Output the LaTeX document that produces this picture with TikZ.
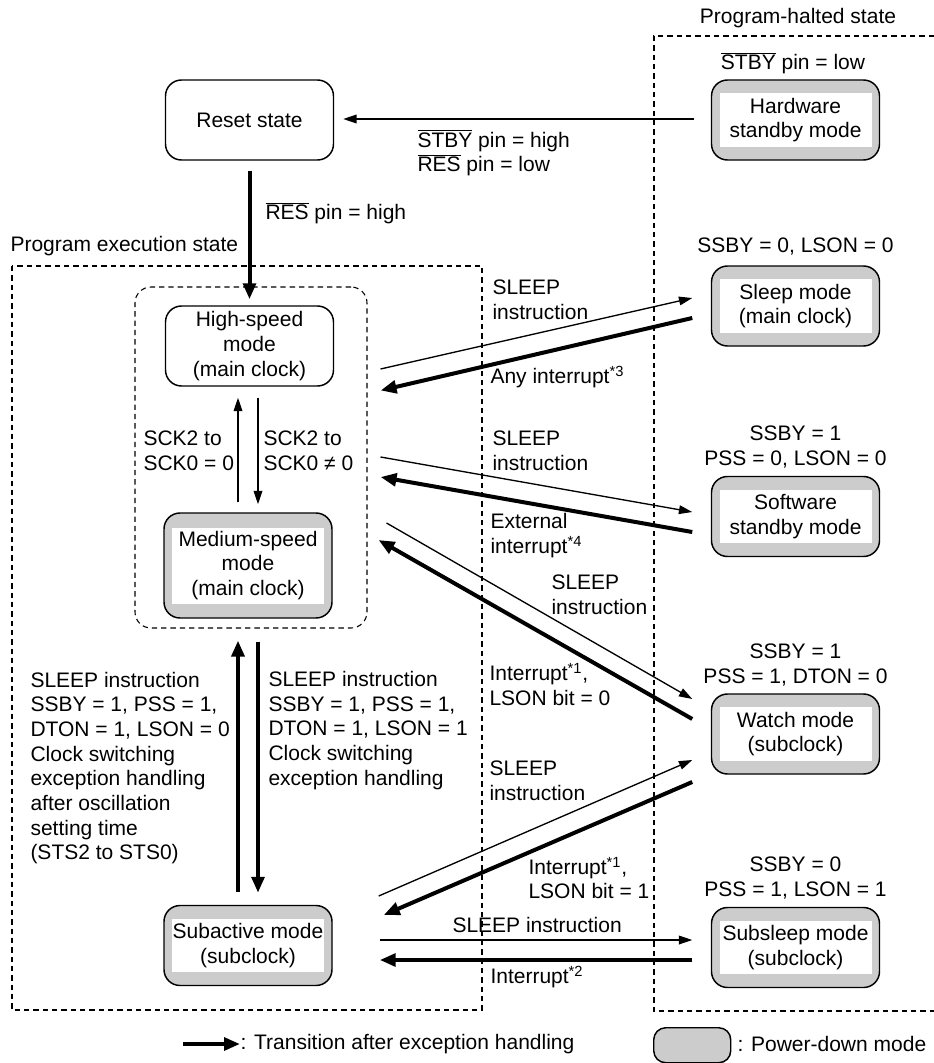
\documentclass[tikz,border=0pt]{standalone}
\usepackage{fontspec}
\setmainfont{Liberation Sans}
\usetikzlibrary{arrows.meta,calc}
\definecolor{pdgray}{RGB}{204,204,204}
\tikzset{every picture/.style={line width=0.75pt}}
\tikzset{
  modebox/.style={draw, rounded corners=12pt, line width=1.1pt, minimum width=126pt, minimum height=60pt, inner sep=0pt, align=center},
  pdbox/.style={modebox, fill=pdgray},
  pdtext/.style={fill=white, minimum width=114pt, minimum height=40pt, inner sep=0pt, align=center},
  lbl/.style={inner sep=0pt, align=left, anchor=west},
  clbl/.style={inner sep=0pt, align=center},
  grpbox/.style={draw, dash pattern=on 4pt off 3pt, line width=0.8pt},
  thinarr/.style={line width=1pt, -{Triangle[length=10pt,width=6.5pt]}},
  thickarr/.style={line width=3pt, -{Triangle[length=12pt,width=9.5pt]}}
}
\begin{document}
\fontsize{15.75}{18.5}\selectfont
\begin{tikzpicture}[x=0.75pt,y=0.75pt,yscale=-1,xscale=1]
\useasboundingbox (0,0) rectangle (934,1063);

%Shape: Rectangle [execution state]
\draw [grpbox] (12,266) rectangle (482,1010);
%Shape: Open Rectangle [halted state]
\draw [grpbox] (934,36) -- (654,36) -- (654,1011) -- (934,1011);
%Shape: Rounded Rect [main clock group]
\node [grpbox, rounded corners=12pt, minimum width=174pt, minimum height=255.75pt] (mainclk) at (251,457.5) {};

% Text Node
\node [lbl] (exectitle) at (10,246) {Program execution state};
% Text Node
\node [clbl] (halttitle) at (798,18) {Program-halted state};

%Shape: Rounded Rect [states]
\node [modebox] (reset) at (249.5,120) {Reset state};
\node [modebox] (high) at (249.5,346) {High-speed\\mode\\(main clock)};
\node [pdbox, minimum height=78.75pt] (medium) at (248,565.5) {};
\node [pdtext, minimum height=57pt] (medium-t) at (medium) {Medium-speed\\mode\\(main clock)};
\node [pdbox] (subact) at (248,945.5) {};
\node [pdtext] (subact-t) at (subact) {Subactive mode\\(subclock)};
\node [pdbox] (hwstby) at (795.5,120) {};
\node [pdtext] (hwstby-t) at (hwstby) {Hardware\\standby mode};
\node [pdbox] (sleep) at (795.5,306) {};
\node [pdtext] (sleep-t) at (sleep) {Sleep mode\\(main clock)};
\node [pdbox] (swstby) at (795.5,516.5) {};
\node [pdtext] (swstby-t) at (swstby) {Software\\standby mode};
\node [pdbox] (watch) at (795.5,734) {};
\node [pdtext] (watch-t) at (watch) {Watch mode\\(subclock)};
\node [pdbox] (subsleep) at (795.5,947.5) {};
\node [pdtext] (subsleep-t) at (subsleep) {Subsleep mode\\(subclock)};

% Text Node
\node [clbl] (hwcond) at (793,63) {$\overline{\mbox{STBY}}$ pin = low};
\node [clbl] (sleepcond) at (795.5,247) {SSBY = 0, LSON = 0};
\node [clbl] (swcond) at (795.5,447) {SSBY = 1\\PSS = 0, LSON = 0};
\node [clbl] (watchcond) at (795.5,665) {SSBY = 1\\PSS = 1, DTON = 0};
\node [clbl] (subslcond) at (795.5,878) {SSBY = 0\\PSS = 1, LSON = 1};

%Straight Lines
\draw [thinarr] ($(hwstby.west)+(-17,-1)$) -- ($(reset.east)+(9,-1)$);
\draw [thickarr] ($(reset.south)+(0,10)$) -- ($(high.north)+(0,-6)$);
\draw [thinarr] ($(medium.north)+(-10,-10)$) -- ($(high.south)+(-11.5,11)$);
\draw [thinarr] ($(high.south)+(8.5,11)$) -- ($(medium.north)+(10,-8)$);
\draw [thickarr] ($(subact.north)+(-10,-13)$) -- ($(mainclk.south)+(-13,12)$);
\draw [thickarr] ($(mainclk.south)+(7,13)$) -- ($(subact.north)+(10,-12)$);
%Straight Lines
\draw [thinarr] ($(mainclk.east)+(13,-88.5)$) -- ($(sleep.west)+(-18.5,-8)$);
\draw [thickarr] ($(sleep.west)+(-18.5,12)$) -- ($(mainclk.east)+(13,-67)$);
\draw [thinarr] ($(mainclk.east)+(13,-0.5)$) -- ($(swstby.west)+(-18.5,-4.5)$);
\draw [thickarr] ($(swstby.west)+(-18.5,15.5)$) -- ($(mainclk.east)+(13,19.5)$);
\draw [thinarr] ($(mainclk.east)+(19,65.5)$) -- ($(watch.west)+(-18.5,-35)$);
\draw [thickarr] ($(watch.west)+(-18.5,-15)$) -- ($(mainclk.east)+(11,82.5)$);
\draw [thinarr] ($(subact.east)+(46,-49.5)$) -- ($(watch.west)+(-18.5,26)$);
\draw [thickarr] ($(watch.west)+(-18.5,48)$) -- ($(subact.east)+(51,-30.5)$);
\draw [thinarr] ($(subact.east)+(47,-5.5)$) -- ($(subsleep.west)+(-18.5,-7.5)$);
\draw [thickarr] ($(subsleep.west)+(-18.5,12.5)$) -- ($(subact.east)+(47,14.5)$);

% Text Node
\node [lbl] (hw-l) at (417,153) {$\overline{\mbox{STBY}}$ pin = high\\$\overline{\mbox{RES}}$ pin = low};
\node [lbl] (res-l) at (265,213) {$\overline{\mbox{RES}}$ pin = high};
\node [lbl] (up-l) at (143,451) {SCK2 to\\SCK0 = 0};
\node [lbl] (dn-l) at (263,451) {SCK2 to\\SCK0 ≠ 0};
\node [lbl] (subup-l) at (30,768) {SLEEP instruction\\SSBY = 1, PSS = 1,\\DTON = 1, LSON = 0\\Clock switching\\exception handling\\after oscillation\\setting time\\(STS2 to STS0)};
\node [lbl] (subdn-l) at (268,730.5) {SLEEP instruction\\SSBY = 1, PSS = 1,\\DTON = 1, LSON = 1\\Clock switching\\exception handling};
% Text Node
\node [lbl] (a1-l) at (492,299.5) {SLEEP\\instruction};
\node [lbl] (a2-l) at (490,377) {Any interrupt\textsuperscript{*3}};
\node [lbl] (a3-l) at (492,450.5) {SLEEP\\instruction};
\node [lbl] (a4-l) at (490,535.5) {External\\interrupt\textsuperscript{*4}};
\node [lbl] (a5-l) at (551,594.5) {SLEEP\\instruction};
\node [lbl] (a6-l) at (489,684.5) {Interrupt\textsuperscript{*1},\\LSON bit = 0};
\node [lbl] (a7-l) at (489,780.5) {SLEEP\\instruction};
\node [lbl] (a8-l) at (528,878) {Interrupt\textsuperscript{*1},\\LSON bit = 1};
\node [lbl] (a9-l) at (452,925) {SLEEP instruction};
\node [lbl] (a10-l) at (490,977) {Interrupt\textsuperscript{*2}};

% Legend
\node [lbl] (leg1) at (240,1044) {: Transition after exception handling};
\draw [thickarr] ($(leg1.west)+(-57,0)$) -- (leg1.west);
\node [pdbox, minimum width=57.75pt, minimum height=26.25pt, rounded corners=9pt, anchor=north west] (legbox) at (653,1027) {};
\node [lbl] (leg2) at (737,1044) {: Power-down mode};

\end{tikzpicture}
\end{document}
